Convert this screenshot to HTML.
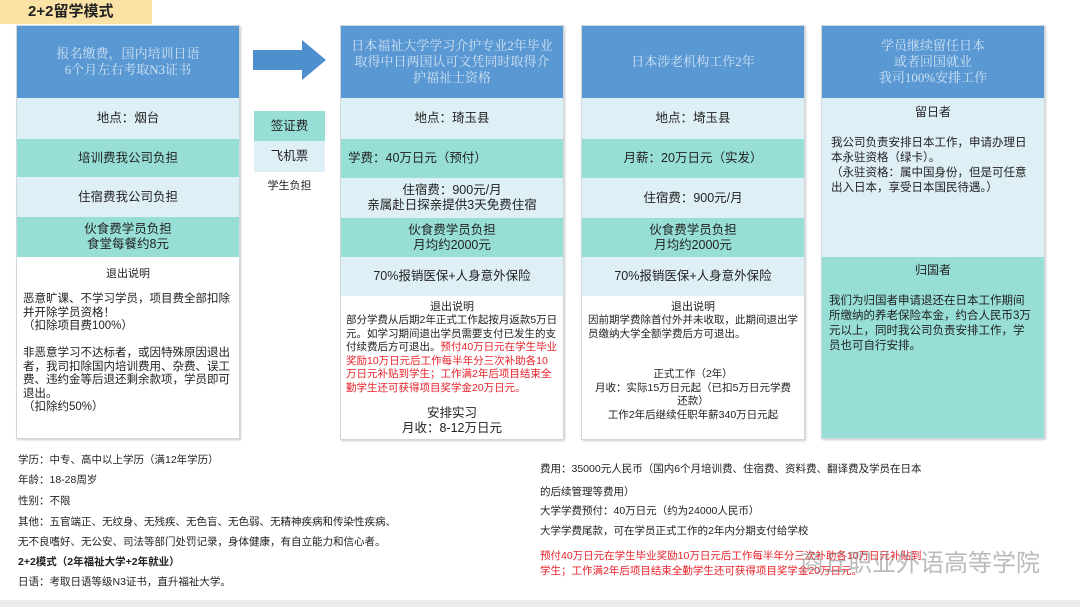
<!DOCTYPE html>
<html><head><meta charset="utf-8"><style>
*{margin:0;padding:0;box-sizing:border-box}
body{width:1080px;height:607px;background:#fff;position:relative;overflow:hidden;font-family:"Liberation Sans","Noto Sans CJK SC",sans-serif;color:#222}
.a{position:absolute}
.col{position:absolute;border:1px solid #cfd6dc;box-shadow:1px 1px 2px #ccc;background:#fff}
.hd{position:absolute;left:0;right:0;background:#5a98d3;color:#cfe2f3;font-family:"Liberation Serif","Noto Serif CJK SC",serif;font-size:13px;line-height:16px;text-align:center;display:flex;align-items:center;justify-content:center}
.r{position:absolute;left:0;right:0;display:flex;align-items:center;justify-content:center;text-align:center;font-size:12.5px;line-height:15px}
.l{background:#dfeff6}.t{background:#97dfd6}
.tx{position:absolute;font-size:11px;line-height:13px}
.red{color:#e8222a}
.b{position:absolute;font-size:10.5px;left:18px}
</style></head><body>
<div class="a" style="left:0;top:0;width:152px;height:24px;background:#fbe3a6;font-weight:bold;font-size:15px;line-height:24px;padding-left:28px">2+2留学模式</div>

<!-- col1 -->
<div class="col" style="left:16px;top:25px;width:224px;height:414px">
<div class="hd" style="top:0;height:72px">报名缴费，国内培训日语<br>6个月左右考取N3证书</div>
<div class="r l" style="top:72px;height:41px">地点：烟台</div>
<div class="r t" style="top:113px;height:38px">培训费我公司负担</div>
<div class="r l" style="top:151px;height:40px">住宿费我公司负担</div>
<div class="r t" style="top:191px;height:40px">伙食费学员负担<br>食堂每餐约8元</div>
<div class="tx" style="top:242px;left:0;right:0;text-align:center">退出说明</div>
<div class="tx" style="top:267px;left:6px;width:208px;font-size:11.5px;line-height:13.5px">恶意旷课、不学习学员，项目费全部扣除并开除学员资格！<br>（扣除项目费100%）<br><br>非恶意学习不达标者，或因特殊原因退出者，我司扣除国内培训费用、杂费、误工费、违约金等后退还剩余款项，学员即可退出。<br>（扣除约50%）</div>
</div>

<svg class="a" style="left:252px;top:38px" width="76" height="46"><polygon points="1,12 50,12 50,2 74,22 50,42 50,32 1,32" fill="#4f8fcd"/></svg>
<div class="r t" style="left:254px;width:71px;top:111px;height:30px;position:absolute">签证费</div>
<div class="r l" style="left:254px;width:71px;top:141px;height:31px;position:absolute">飞机票</div>
<div class="tx" style="left:254px;width:71px;top:180px;text-align:center">学生负担</div>

<!-- col2 -->
<div class="col" style="left:340px;top:25px;width:224px;height:415px">
<div class="hd" style="top:0;height:72px;padding:0 10px">日本福祉大学学习介护专业2年毕业取得中日两国认可文凭同时取得介护福祉士资格</div>
<div class="r l" style="top:72px;height:41px">地点：琦玉县</div>
<div class="r t" style="top:113px;height:39px;justify-content:flex-start;padding-left:7px">学费：40万日元（预付）</div>
<div class="r l" style="top:152px;height:40px">住宿费：900元/月<br>亲属赴日探亲提供3天免费住宿</div>
<div class="r t" style="top:192px;height:39px">伙食费学员负担<br>月均约2000元</div>
<div class="r l" style="top:231px;height:39px">70%报销医保+人身意外保险</div>
<div class="tx" style="top:275px;left:0;right:0;text-align:center">退出说明</div>
<div class="tx" style="top:288px;left:5px;width:212px;font-size:10.5px;line-height:13.5px">部分学费从后期2年正式工作起按月返款5万日元。如学习期间退出学员需要支付已发生的支付续费后方可退出。<span class="red">预付40万日元在学生毕业奖励10万日元后工作每半年分三次补助各10万日元补贴到学生；工作满2年后项目结束全勤学生还可获得项目奖学金20万日元。</span></div>
<div class="r" style="top:379px;height:32px">安排实习<br>月收：8-12万日元</div>
</div>

<!-- col3 -->
<div class="col" style="left:581px;top:25px;width:224px;height:415px">
<div class="hd" style="top:0;height:72px">日本涉老机构工作2年</div>
<div class="r l" style="top:72px;height:41px">地点：埼玉县</div>
<div class="r t" style="top:113px;height:39px">月薪：20万日元（实发）</div>
<div class="r l" style="top:152px;height:40px">住宿费：900元/月</div>
<div class="r t" style="top:192px;height:39px">伙食费学员负担<br>月均约2000元</div>
<div class="r l" style="top:231px;height:39px">70%报销医保+人身意外保险</div>
<div class="tx" style="top:275px;left:0;right:0;text-align:center">退出说明</div>
<div class="tx" style="top:288px;left:6px;width:210px;font-size:10.5px;line-height:13.5px">因前期学费除首付外并未收取，此期间退出学员缴纳大学全额学费后方可退出。</div>
<div class="tx" style="top:342px;left:10px;right:10px;text-align:center;font-size:10.5px;line-height:13.5px">正式工作（2年）<br>月收：实际15万日元起（已扣5万日元学费还款）<br>工作2年后继续任职年薪340万日元起</div>
</div>

<!-- col4 -->
<div class="col" style="left:821px;top:25px;width:224px;height:414px">
<div class="hd" style="top:0;height:72px">学员继续留任日本<br>或者回国就业<br>我司100%安排工作</div>
<div class="a l" style="left:0;right:0;top:72px;height:159px"></div>
<div class="a t" style="left:0;right:0;top:231px;bottom:0"></div>
<div class="tx" style="top:80px;left:0;right:0;text-align:center;font-size:12px">留日者</div>
<div class="tx" style="top:110px;left:9px;width:200px;font-size:11.5px;line-height:15px">我公司负责安排日本工作，申请办理日本永驻资格（绿卡）。<br>（永驻资格：属中国身份，但是可任意出入日本，享受日本国民待遇。）</div>
<div class="tx" style="top:238px;left:0;right:0;text-align:center;font-size:12px">归国者</div>
<div class="tx" style="top:268px;left:7px;width:205px;font-size:11.5px;line-height:15px">我们为归国者申请退还在日本工作期间所缴纳的养老保险本金，约合人民币3万元以上，同时我公司负责安排工作，学员也可自行安排。</div>
</div>

<div class="b" style="top:452px">学历：中专、高中以上学历（满12年学历）</div>
<div class="b" style="top:472px">年龄：18-28周岁</div>
<div class="b" style="top:493px">性别：不限</div>
<div class="b" style="top:514px">其他：五官端正、无纹身、无残疾、无色盲、无色弱、无精神疾病和传染性疾病、</div>
<div class="b" style="top:534px">无不良嗜好、无公安、司法等部门处罚记录，身体健康，有自立能力和信心者。</div>
<div class="b" style="top:554px;font-weight:bold">2+2模式（2年福祉大学+2年就业）</div>
<div class="b" style="top:574px">日语：考取日语等级N3证书，直升福祉大学。</div>

<div class="b" style="left:540px;top:461px">费用：35000元人民币（国内6个月培训费、住宿费、资料费、翻译费及学员在日本</div>
<div class="b" style="left:540px;top:484px">的后续管理等费用）</div>
<div class="b" style="left:540px;top:503px">大学学费预付：40万日元（约为24000人民币）</div>
<div class="b" style="left:540px;top:523px">大学学费尾款，可在学员正式工作的2年内分期支付给学校</div>
<div class="b red" style="left:540px;top:549px;line-height:15px">预付40万日元在学生毕业奖励10万日元后工作每半年分三次补助各10万日元补贴到<br>学生；工作满2年后项目结束全勤学生还可获得项目奖学金20万日元。</div>
<div class="a" style="left:800px;top:543px;font-size:24px;color:rgba(120,120,120,0.5);font-family:'Noto Sans CJK SC',sans-serif">商丘职业外语高等学院</div>
<div class="a" style="left:0;top:600px;width:1080px;height:7px;background:#ececec"></div>
</body></html>
